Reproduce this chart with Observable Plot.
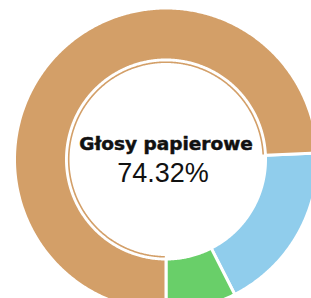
<!DOCTYPE html>
<html><head><meta charset="utf-8">
<script src="https://cdn.jsdelivr.net/npm/d3@7"></script>
<script src="https://cdn.jsdelivr.net/npm/@observablehq/plot@0.6"></script>
<style>html,body{margin:0;padding:0;background:#fff;overflow:hidden}</style>
</head><body><div id="chart"></div>
<script>
// Data
const categories = ["Głosy papierowe", "Kategoria 2", "Kategoria 3"];
const values = [74.32, 18.18, 7.50];
const colors = ["#D39F68", "#90CDEC", "#69CF69"];
const highlighted = "Głosy papierowe";

// Build slice geometry from the values (clockwise from 12 o'clock)
const total = d3.sum(values);
const order = [1, 2, 0];
let acc = Math.PI - 2 * Math.PI * (values[1] + values[2]) / total;
const slices = order.map(i => {
  const a0 = acc;
  acc += 2 * Math.PI * values[i] / total;
  return {name: categories[i], color: colors[i], a0, a1: acc};
});

function ring(s, r0, r1) {
  const n = Math.max(2, Math.ceil((s.a1 - s.a0) / (Math.PI / 360)));
  const pts = [];
  for (let k = 0; k <= n; k++) {
    const t = s.a0 + (s.a1 - s.a0) * k / n;
    pts.push({name: s.name, color: s.color, x: r1 * Math.sin(t), y: r1 * Math.cos(t)});
  }
  for (let k = n; k >= 0; k--) {
    const t = s.a0 + (s.a1 - s.a0) * k / n;
    pts.push({name: s.name, color: s.color, x: r0 * Math.sin(t), y: r0 * Math.cos(t)});
  }
  pts.push({...pts[0]});
  return pts;
}

const R_OUT = 151.5, R_IN = 99.5;
const ringPts = slices.flatMap(s => ring(s, R_IN, R_OUT));
const hi = slices.find(s => s.name === highlighted);
const thinPts = ring({...hi, a0: hi.a0 + 0.012, a1: hi.a1 - 0.008}, 96.5, 98.1);

const idx = categories.indexOf(highlighted);
const label = [{t: highlighted}];
const pct = [{t: values[idx].toFixed(2) + "%"}];

const chart = Plot.plot({
  width: 311, height: 298, margin: 0,
  x: {domain: [-165.5, 145.5], axis: null},
  y: {domain: [-139, 159], axis: null},
  color: {type: "identity"},
  marks: [
    Plot.line(ringPts, {x: "x", y: "y", z: "name", fill: "color", stroke: "white", strokeWidth: 3, curve: "linear", clip: true}),
    Plot.line(thinPts, {x: "x", y: "y", z: "name", fill: "color", stroke: "none", curve: "linear"}),
    Plot.text(label, {x: () => 0, y: () => 0, text: "t", dy: -15.5, fontSize: 18.5, fontWeight: "bold", fontFamily: "DejaVu Sans, sans-serif", fill: "#111", stroke: "#111", strokeWidth: 0.5}),
    Plot.text(pct, {x: () => 0, y: () => 0, text: "t", dy: 14, dx: -3, fontSize: 27, fontFamily: "Liberation Sans, Arial, sans-serif", fill: "#111"})
  ]
});
document.getElementById("chart").appendChild(chart);
</script>
</body></html>
